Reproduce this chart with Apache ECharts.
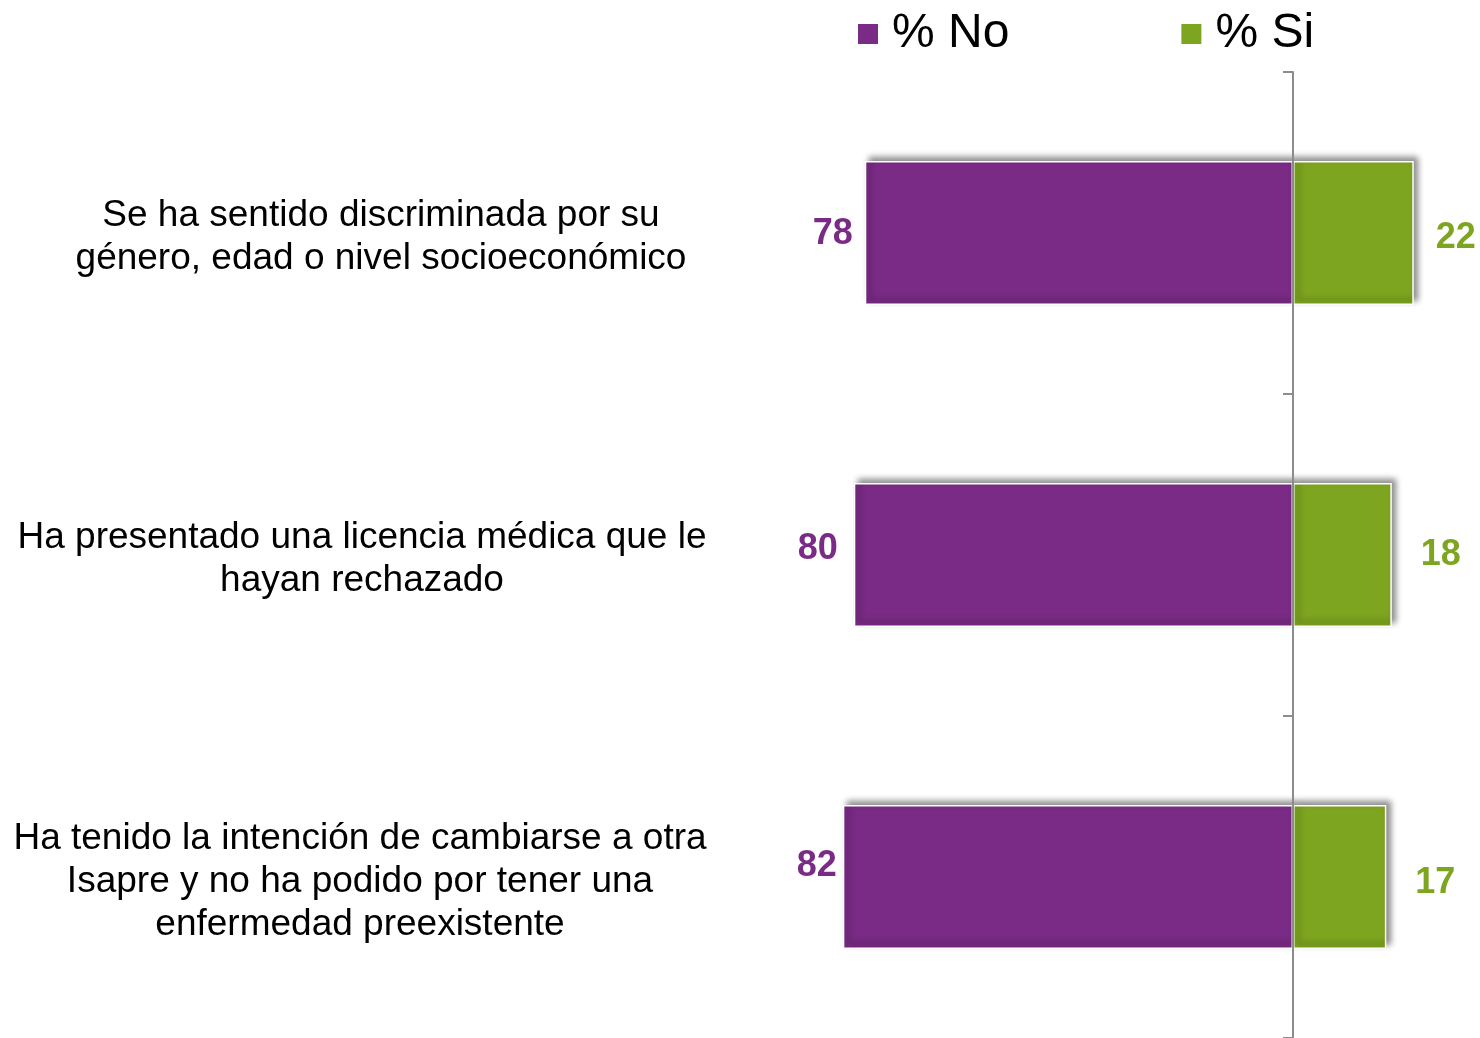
<!DOCTYPE html>
<html lang="es">
<head>
<meta charset="utf-8">
<title>Discriminación y restricciones en Isapre</title>
<script src="https://cdn.jsdelivr.net/npm/echarts@6/dist/echarts.min.js"></script>
<style>
  html, body { margin: 0; padding: 0; background: #ffffff; }
  #chart { width: 1480px; height: 1038px; }
</style>
</head>
<body>
<div id="chart"></div>
<script>
// Survey items (top to bottom)
const categories = [
  'Se ha sentido discriminada por su\ngénero, edad o nivel socioeconómico',
  'Ha presentado una licencia médica que le\nhayan rechazado',
  'Ha tenido la intención de cambiarse a otra\nIsapre y no ha podido por tener una\nenfermedad preexistente'
];
const seriesNames = ['% No', '% Si'];
const noValues = [78, 80, 82];
const siValues = [22, 18, 17];

// Small per-item nudges for the value labels: [gap from bar, vertical shift]
const noLabelNudge = [[12, 1], [16, -6], [6, -11]];
const siLabelNudge = [[22, 5], [29, 0], [29, 6]];
// Horizontal shift for each category label block
const catLabelShift = [38, 0, -4];

const PURPLE = '#7A2B85';
const GREEN = '#7EA51F';
const FONT = '"Liberation Sans", Arial, sans-serif';

const barStyle = {
  borderColor: '#ffffff',
  borderWidth: 1.5,
  shadowColor: 'rgba(0,0,0,0.45)',
  shadowBlur: 6,
  shadowOffsetX: 4,
  shadowOffsetY: -4
};

const noData = noValues.map((v, i) => ({
  value: -v,
  label: { distance: noLabelNudge[i][0], offset: [0, noLabelNudge[i][1]] }
}));
const siData = siValues.map((v, i) => ({
  value: v,
  label: { distance: siLabelNudge[i][0], offset: [0, siLabelNudge[i][1]] }
}));

const rich = {};
catLabelShift.forEach((s, i) => {
  rich['c' + i] = {
    fontFamily: FONT,
    fontSize: 37,
    lineHeight: 43,
    color: '#000000',
    align: 'center',
    padding: s >= 0 ? [0, 0, 0, s] : [0, -s, 0, 0]
  };
});

const chart = echarts.init(document.getElementById('chart'), null, { renderer: 'canvas' });

chart.setOption({
  animation: false,
  backgroundColor: '#ffffff',
  legend: {
    data: seriesNames,
    left: 851,
    top: 5,
    icon: 'rect',
    itemWidth: 22,
    itemHeight: 22,
    itemGap: 170,
    textStyle: {
      fontFamily: FONT,
      fontSize: 48,
      color: '#000000',
      padding: [0, 0, 0, 8]
    }
  },
  grid: {
    left: 744,
    right: 22.3,
    top: 72,
    bottom: -3
  },
  xAxis: {
    type: 'value',
    min: -100,
    max: 30,
    show: false
  },
  yAxis: [
    {
      // centre axis with category separators
      type: 'category',
      data: categories,
      inverse: true,
      position: 'left',
      z: 5,
      axisLine: { show: true, onZero: true, lineStyle: { color: '#8c8c8c', width: 2 } },
      axisTick: { show: true, length: 10, lineStyle: { color: '#8c8c8c', width: 2 } },
      axisLabel: { show: false },
      splitLine: { show: false }
    },
    {
      // category text on the far left
      type: 'category',
      data: categories,
      inverse: true,
      position: 'left',
      axisLine: { show: false, onZero: false },
      axisTick: { show: false },
      splitLine: { show: false },
      axisLabel: {
        show: true,
        margin: 382,
        align: 'center',
        padding: [9, 0, 0, 0],
        fontFamily: FONT,
        fontSize: 37,
        lineHeight: 43,
        color: '#000000',
        formatter: (val, idx) => val.split('\n').map(l => '{c' + idx + '|' + l + '}').join('\n'),
        rich: rich
      }
    }
  ],
  series: [
    {
      name: seriesNames[0],
      type: 'bar',
      stack: 'total',
      yAxisIndex: 0,
      barWidth: 144,
      data: noData,
      itemStyle: Object.assign({ color: PURPLE }, barStyle),
      label: {
        show: true,
        position: 'left',
        fontFamily: FONT,
        fontSize: 36,
        fontWeight: 'bold',
        color: PURPLE,
        formatter: p => Math.abs(p.value)
      }
    },
    {
      name: seriesNames[1],
      type: 'bar',
      stack: 'total',
      yAxisIndex: 0,
      barWidth: 144,
      data: siData,
      itemStyle: Object.assign({ color: GREEN }, barStyle),
      label: {
        show: true,
        position: 'right',
        fontFamily: FONT,
        fontSize: 36,
        fontWeight: 'bold',
        color: GREEN,
        formatter: p => p.value
      }
    }
  ]
});
</script>
</body>
</html>
